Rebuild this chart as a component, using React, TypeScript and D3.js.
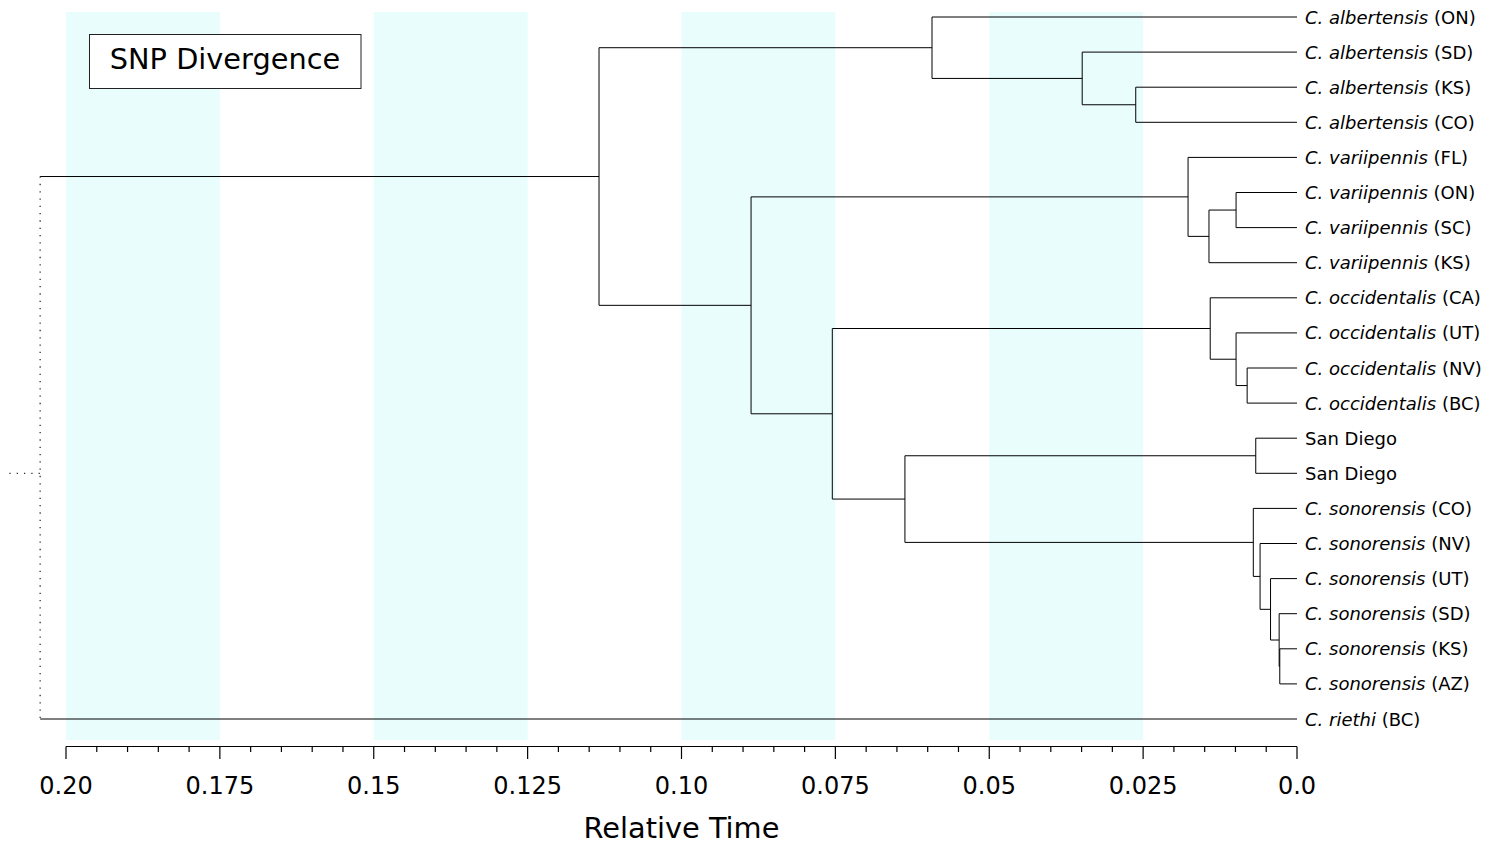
import React from "react";
import * as d3 from "d3";

// ---- Data ----
const leafSpecies = [
  "C. albertensis", "C. albertensis", "C. albertensis", "C. albertensis",
  "C. variipennis", "C. variipennis", "C. variipennis", "C. variipennis",
  "C. occidentalis", "C. occidentalis", "C. occidentalis", "C. occidentalis",
  "", "",
  "C. sonorensis", "C. sonorensis", "C. sonorensis", "C. sonorensis", "C. sonorensis", "C. sonorensis",
  "C. riethi",
];
const leafSuffix = [
  "(ON)", "(SD)", "(KS)", "(CO)",
  "(FL)", "(ON)", "(SC)", "(KS)",
  "(CA)", "(UT)", "(NV)", "(BC)",
  "San Diego", "San Diego",
  "(CO)", "(NV)", "(UT)", "(SD)", "(KS)", "(AZ)",
  "(BC)",
];

// internal nodes: [id, age, children]  (children: leaf index number or node id string)
const internalNodes: [string, number, (number | string)[]][] = [
  ["alb3", 0.0262, [2, 3]],
  ["alb2", 0.0349, [1, "alb3"]],
  ["alb", 0.0593, [0, "alb2"]],
  ["var3", 0.0099, [5, 6]],
  ["var2", 0.0143, ["var3", 7]],
  ["var", 0.0177, [4, "var2"]],
  ["occ3", 0.0081, [10, 11]],
  ["occ2", 0.0099, [9, "occ3"]],
  ["occ", 0.0141, [8, "occ2"]],
  ["sd", 0.0067, [12, 13]],
  ["son5", 0.0028, [18, 19]],
  ["son4", 0.0029, [17, "son5"]],
  ["son3", 0.0043, [16, "son4"]],
  ["son2", 0.006, [15, "son3"]],
  ["son", 0.0071, [14, "son2"]],
  ["sdson", 0.0637, ["sd", "son"]],
  ["occsd", 0.0755, ["occ", "sdson"]],
  ["varocc", 0.0887, ["var", "occsd"]],
  ["ingroup", 0.1134, ["alb", "varocc"]],
  ["root", 0.2042, ["ingroup", 20]],
];
const rootStubRow = 13;
const rootStubLength = 0.005;

const majorTicks = [0.2, 0.175, 0.15, 0.125, 0.1, 0.075, 0.05, 0.025, 0.0];
const majorTickLabels = ["0.20", "0.175", "0.15", "0.125", "0.10", "0.075", "0.05", "0.025", "0.0"];
const minorTickStep = 0.005;
const bands: [number, number][] = [
  [0.2, 0.175],
  [0.15, 0.125],
  [0.1, 0.075],
  [0.05, 0.025],
];
const titleText = "SNP Divergence";
const axisTitle = "Relative Time";

// ---- Layout ----
const W = 1497;
const H = 845;
const FONT = "'DejaVu Sans', Verdana, sans-serif";

export default function App() {
  const x = d3.scaleLinear().domain([0.2, 0]).range([66, 1297]);
  const y = d3.scaleLinear().domain([0, leafSuffix.length - 1]).range([17, 719]);

  const pos: Record<string, { x: number; y: number }> = {};
  const getPos = (c: number | string) =>
    typeof c === "number" ? { x: x(0), y: y(c) } : pos[c];
  internalNodes.forEach(([id, age, children]) => {
    const ys = children.map((c) => getPos(c).y);
    pos[id] = { x: x(age), y: (Math.min(...ys) + Math.max(...ys)) / 2 };
  });

  const segs: { x1: number; y1: number; x2: number; y2: number; dotted: boolean }[] = [];
  internalNodes.forEach(([id, , children]) => {
    const p = pos[id];
    const isRoot = id === "root";
    const ys = children.map((c) => getPos(c).y);
    segs.push({ x1: p.x, y1: Math.min(...ys), x2: p.x, y2: Math.max(...ys), dotted: isRoot });
    children.forEach((c) => {
      const cp = getPos(c);
      segs.push({ x1: p.x, y1: cp.y, x2: cp.x, y2: cp.y, dotted: false });
    });
  });
  const rootP = pos["root"];
  const rootAge = internalNodes[internalNodes.length - 1][1];
  segs.push({
    x1: x(rootAge + rootStubLength),
    y1: y(rootStubRow),
    x2: rootP.x,
    y2: y(rootStubRow),
    dotted: true,
  });

  const minorTicks = d3.range(0, 0.2 + 1e-9, minorTickStep).filter(
    (t) => !majorTicks.some((m) => Math.abs(m - t) < 1e-9)
  );

  const axisY = 746.5;

  return (
    <svg
      width={W}
      height={H}
      style={{ position: "absolute", left: 0, top: 0, background: "#fff" }}
      fontFamily={FONT}
    >
      {bands.map(([a, b], i) => (
        <rect key={i} x={x(a)} y={12} width={x(b) - x(a)} height={728} fill="#e9fdfd" />
      ))}

      {segs.map((s, i) => (
        <line
          key={i}
          x1={s.x1}
          y1={s.y1}
          x2={s.x2}
          y2={s.y2}
          stroke={s.dotted ? "#333" : "#000"}
          strokeWidth={s.dotted ? 1.3 : 1}
          strokeDasharray={s.dotted ? "1.3,6" : undefined}
        />
      ))}

      {leafSuffix.map((suf, i) => (
        <text key={i} x={x(0) + 8} y={y(i) + 6.5} fontSize={18} fill="#000">
          {leafSpecies[i] ? (
            <>
              <tspan fontStyle="italic">{leafSpecies[i]}</tspan>
              <tspan> {suf}</tspan>
            </>
          ) : (
            suf
          )}
        </text>
      ))}

      {/* axis */}
      <line x1={x(0.2)} x2={x(0)} y1={axisY} y2={axisY} stroke="#000" strokeWidth={1.2} />
      {majorTicks.map((t, i) => (
        <g key={i}>
          <line x1={x(t)} x2={x(t)} y1={axisY} y2={759} stroke="#000" strokeWidth={1.2} />
          <text x={x(t)} y={794} fontSize={24} textAnchor="middle" fill="#000">
            {majorTickLabels[i]}
          </text>
        </g>
      ))}
      {minorTicks.map((t, i) => (
        <line key={i} x1={x(t)} x2={x(t)} y1={axisY} y2={752} stroke="#000" strokeWidth={1.2} />
      ))}
      <text x={(x(0.2) + x(0)) / 2} y={838} fontSize={28.8} textAnchor="middle" fill="#000">
        {axisTitle}
      </text>

      {/* title box */}
      <rect x={89.5} y={34.5} width={271.5} height={54} fill="#fff" stroke="#222" strokeWidth={1} />
      <text x={225} y={68.5} fontSize={28.8} textAnchor="middle" fill="#000">
        {titleText}
      </text>
    </svg>
  );
}
